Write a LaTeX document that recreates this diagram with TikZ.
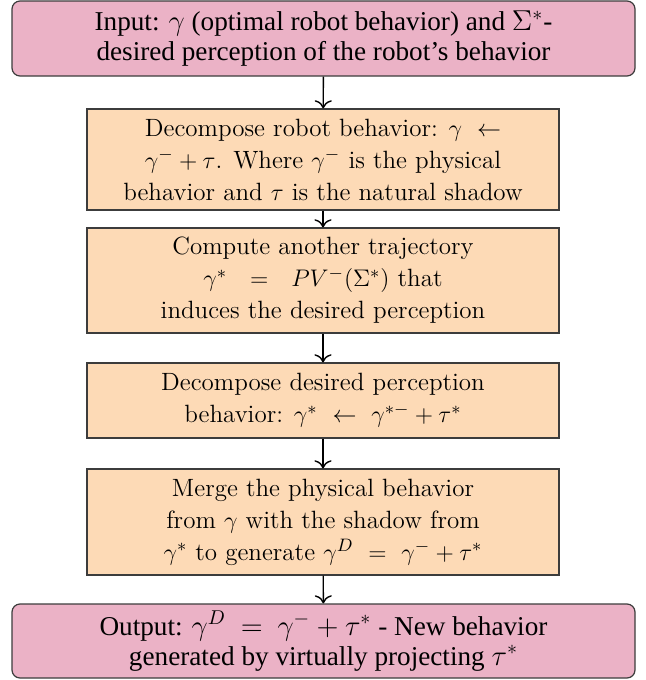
\documentclass[tikz,border=0pt]{standalone}
\usepackage{amsmath,amsfonts}
\usepackage{fontspec}
\usepackage{xcolor}
\usepackage{tikz}
\usetikzlibrary{arrows.meta}
\newfontfamily\timesfont{Liberation Serif}
\definecolor{pinkbox}{RGB}{235,178,198}
\definecolor{peachbox}{RGB}{253,218,182}
\definecolor{edgegray}{RGB}{60,60,60}

\tikzset{
    endbox/.style={draw=edgegray,fill=pinkbox,rounded corners=4pt,line width=0.6pt,
        minimum width=311.5pt,inner sep=0pt,align=center,
        font=\timesfont\fontsize{13.6}{15}\selectfont},
    stepbox/.style={draw=edgegray,fill=peachbox,line width=0.6pt,
        minimum width=236pt,inner sep=0pt,align=center,
        font=\fontsize{12.5}{16}\selectfont},
    flow/.style={-{To[scale=1.3]},line width=0.7pt}
}

\begin{document}
\begin{tikzpicture}[x=0.5pt,y=-0.5pt]
    \useasboundingbox (0,0) rectangle (646,680);
    \node[endbox,minimum height=37.5pt] (input) at (323.5,38.5)
        {Input: $\gamma$ (optimal robot behavior) and $\Sigma^*$-\\desired perception of the robot’s behavior};
    \node[stepbox,minimum height=50.5pt] (decomp) at (323,159.5)
        {Decompose robot behavior: $\gamma\ \leftarrow$\\$\gamma^-+\tau$. Where $\gamma^-$ is the physical\\behavior and $\tau$ is the natural shadow};
    \node[stepbox,minimum height=52.5pt] (compute) at (323,280.5)
        {Compute another trajectory\\$\gamma^*\ \ =\ \ PV^-(\Sigma^*)$ that\\induces the desired perception};
    \node[stepbox,minimum height=37.5pt] (desired) at (323,400.5)
        {Decompose desired perception\\behavior: $\gamma^*\ \leftarrow\ \gamma^{*-}+\tau^*$};
    \node[stepbox,minimum height=53pt] (merge) at (323,522)
        {Merge the physical behavior\\from $\gamma$ with the shadow from\\$\gamma^*$ to generate $\gamma^D\ =\ \gamma^-+\tau^*$};
    \node[endbox,minimum height=37pt] (output) at (323.5,641)
        {Output: $\gamma^D\ =\ \gamma^-+\tau^{*}$ - New behavior\\generated by virtually projecting $\tau^*$};
    \draw[flow] (input) to (decomp);
    \draw[flow] (decomp) to (compute);
    \draw[flow] (compute) to (desired);
    \draw[flow] (desired) to (merge);
    \draw[flow] (merge) to (output);
\end{tikzpicture}
\end{document}
